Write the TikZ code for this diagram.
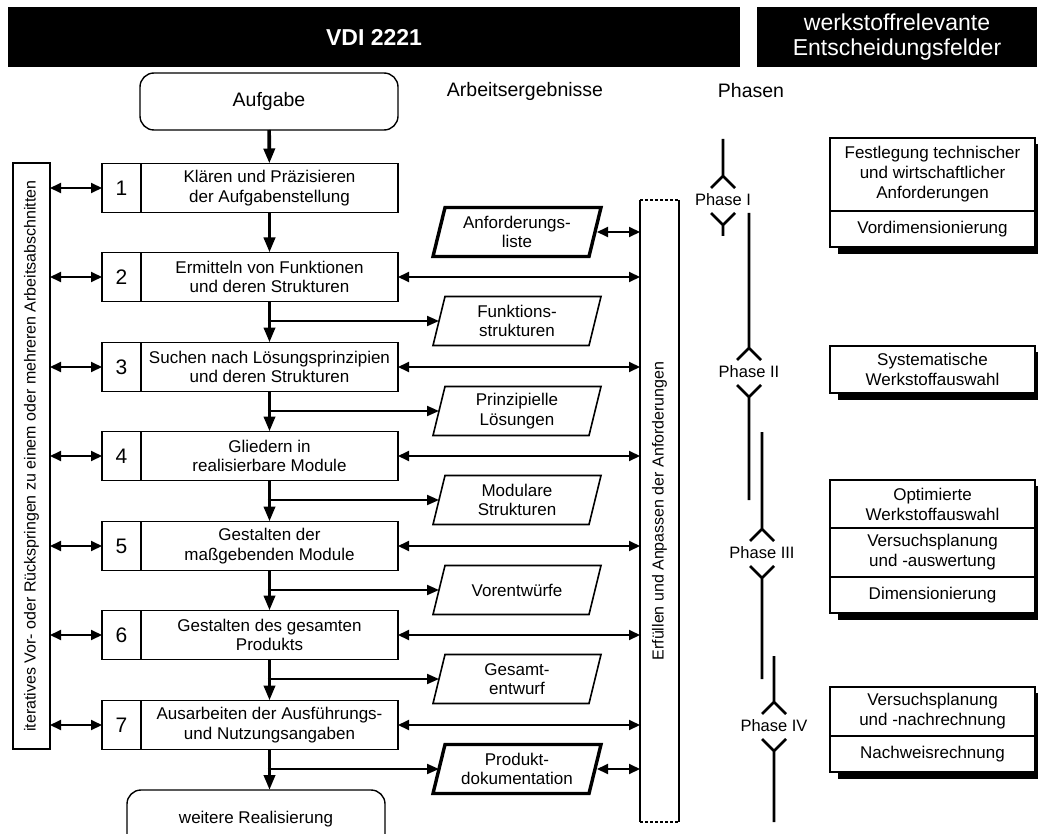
\documentclass[tikz,border=0pt]{standalone}
\usepackage{fontspec}
\setmainfont{Liberation Sans}
\usetikzlibrary{arrows.meta,calc}

\newcommand{\fsz}[2]{\fontsize{#1}{#2}\selectfont}
% slanted outline around a named result node
\newcommand{\drawslant}[2]{%
  \draw[#2] ([xshift=-6pt]#1.south west) -- ([xshift=6pt]#1.north west)
            -- ([xshift=6pt]#1.north east) -- ([xshift=-6pt]#1.south east) -- cycle;}
% phase marker: x, label y, top of line, bottom of line
\newcommand{\phasemark}[4]{%
  \draw[phaseline] (#1,#3) -- (#1,#2-24) (#1-12,#2-12) -- (#1,#2-24) -- (#1+12,#2-12);
  \draw[phaseline] (#1-12,#2+13) -- (#1,#2+25) -- (#1+12,#2+13) (#1,#2+25) -- (#1,#4);}

\begin{document}
\begin{tikzpicture}[x=1pt,y=-1pt,
  every node/.style={inner sep=0pt, outer sep=0pt, align=center},
  body/.style={font=\fsz{17}{19.5}},
  numcell/.style={draw, line width=1.6pt, minimum width=39pt, minimum height=49pt, font=\fsz{21}{21}},
  stepcell/.style={draw, line width=1.6pt, minimum width=257pt, minimum height=49pt, body},
  terminal/.style={draw, line width=1.4pt, rounded corners=14pt, minimum width=258pt},
  result/.style={minimum width=156pt, minimum height=49pt, body},
  normres/.style={line width=1.6pt, line join=miter},
  thickres/.style={line width=3.4pt, line join=miter},
  field/.style={draw, fill=white, line width=1.1pt, minimum width=205pt, font=\fsz{17}{20}},
  flow/.style={line width=3.6pt, -{Triangle[length=15pt,width=11pt]}},
  branch/.style={line width=2pt, -{Triangle[length=12pt,width=10pt]}},
  dbl/.style={line width=2pt, {Triangle[length=11pt,width=10pt]}-{Triangle[length=11pt,width=10pt]}},
  phaseline/.style={line width=2.8pt, line join=miter},
  phaselabel/.style={font=\fsz{16.5}{16.5}},
  head/.style={font=\fsz{19.5}{19.5}}
]
\useasboundingbox (0,0) rectangle (1038,834);

% header bars
\node[fill=black, minimum width=732pt, minimum height=60pt, text=white,
      font=\fsz{23}{23}\bfseries] (vdi) at (374,37) {VDI 2221};
\node[fill=black, minimum width=280pt, minimum height=60pt, text=white,
      font=\fsz{23}{25}] (wfe) at (897,37) {werkstoffrelevante\\Entscheidungsfelder};

\node[head] (hres) at (525,91) {Arbeitsergebnisse};
\node[head] (hph) at (751,91) {Phasen};

% start and end
\node[terminal, minimum height=57pt, font=\fsz{19.5}{19.5}] (aufgabe) at (269,101.5) {Aufgabe};
\begin{scope}
  \clip (0,0) rectangle (1038,834);
  \node[terminal, minimum height=58pt, body] (weiter) at (256,819) {weitere Realisierung};
\end{scope}

% working steps
\foreach \k/\t in {1/{Klären und Präzisieren\\der Aufgabenstellung},
                   2/{Ermitteln von Funktionen\\und deren Strukturen},
                   3/{Suchen nach Lösungsprinzipien\\und deren Strukturen},
                   4/{Gliedern in\\realisierbare Module},
                   5/{Gestalten der\\maßgebenden Module},
                   6/{Gestalten des gesamten\\Produkts},
                   7/{Ausarbeiten der Ausführungs-\\und Nutzungsangaben}}{
  \node[numcell] (n\k) at (121.5,{round(187.5+(\k-1)*89.5)}) {\k};
  \node[stepcell, anchor=west] (s\k) at (n\k.east) {\t};
}

% working results
\foreach \k/\t in {1/{Anforderungs-\\liste},
                   2/{Funktions-\\strukturen},
                   3/{Prinzipielle\\Lösungen},
                   4/{Modulare\\Strukturen},
                   5/{Vorentwürfe},
                   6/{Gesamt-\\entwurf},
                   7/{Produkt-\\dokumentation}}{
  \node[result] (r\k) at (517,{round(231.5+(\k-1)*89.5)}) {\t};
}
\drawslant{r1}{thickres}
\drawslant{r2}{normres}
\drawslant{r3}{normres}
\drawslant{r4}{normres}
\drawslant{r5}{normres}
\drawslant{r6}{normres}
\drawslant{r7}{thickres}

% side boxes
\node[draw, line width=1.6pt, minimum width=37pt, minimum height=586pt] (iter) at (31.5,456) {};
\node[rotate=90, font=\fsz{16}{16}] (itertext) at (iter)
  {iteratives Vor- oder Rückspringen zu einem oder mehreren Arbeitsabschnitten};

\node[minimum width=39pt, minimum height=622pt] (erf) at (659.5,511) {};
\draw[line width=1.4pt] (erf.north west) -- (erf.south west) (erf.north east) -- (erf.south east);
\draw[line width=1.4pt, dash pattern=on 3pt off 2pt] (erf.north west) -- (erf.north east)
     (erf.south west) -- (erf.south east);
\node[rotate=90, font=\fsz{16}{16}] (erftext) at (erf) {Erfüllen und Anpassen der Anforderungen};

% main flow
\draw[flow] (aufgabe) -- (s1);
\foreach \a/\b in {1/2,2/3,3/4,4/5,5/6,6/7}{
  \draw[flow] (s\a) -- (s\b);
}
\draw[flow] (s7.south) -- (s7.south |- weiter.north);

% branches to results
\foreach \k in {2,...,7}{
  \coordinate (b\k) at (s\k.south |- r\k.west);
  \draw[branch] ([xshift=-1.8pt]b\k) -- (r\k.west);
}

% iteration arrows
\foreach \k in {1,...,7}{
  \draw[dbl] (n\k.west -| iter.east) -- (n\k.west);
}
% requirement arrows
\foreach \k in {2,...,7}{
  \draw[dbl] (s\k.east) -- (s\k.east -| erf.west);
}
\draw[dbl] ([xshift=2pt]r1.east) -- (r1.east -| erf.west);
\draw[dbl] ([xshift=2pt]r7.east) -- (r7.east -| erf.west);

% phases
\node[phaselabel] (ph1) at (723,200) {Phase I};
\node[phaselabel] (ph2) at (749,372) {Phase II};
\node[phaselabel] (ph3) at (762,553) {Phase III};
\node[phaselabel] (ph4) at (774,726) {Phase IV};
\phasemark{723}{200}{139}{236}
\phasemark{749}{372}{213}{500}
\phasemark{762}{553}{432}{679}
\phasemark{774}{726}{656}{822}

% solid shadows under the decision field groups
\fill[black] (838,144) rectangle (1038,254);
\fill[black] (838,352) rectangle (1038,400);
\fill[black] (838,486) rectangle (1038,620);
\fill[black] (838,693) rectangle (1038,779);

% material decision fields
\node[field, minimum height=73pt] (f1a) at (932.5,174.5) {Festlegung technischer\\und wirtschaftlicher\\Anforderungen};
\node[field, minimum height=36pt] (f1b) at (932.5,229) {Vordimensionierung};
\node[field, minimum height=47pt] (f2) at (932.5,369.5) {Systematische\\Werkstoffauswahl};
\node[field, minimum height=48pt] (f3a) at (932.5,504) {Optimierte\\Werkstoffauswahl};
\node[field, minimum height=49pt] (f3b) at (932.5,552.5) {Versuchsplanung\\und -auswertung};
\node[field, minimum height=36pt] (f3c) at (932.5,595) {Dimensionierung};
\node[field, minimum height=49pt] (f4a) at (932.5,711.5) {Versuchsplanung\\und -nachrechnung};
\node[field, minimum height=36pt] (f4b) at (932.5,754) {Nachweisrechnung};
\end{tikzpicture}
\end{document}
